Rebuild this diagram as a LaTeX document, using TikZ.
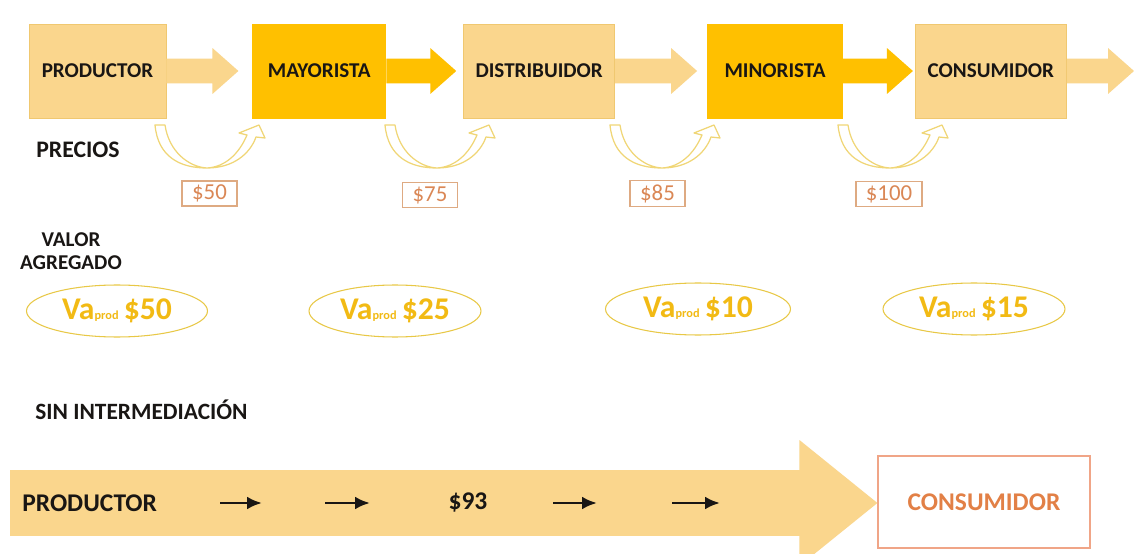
\documentclass[tikz,border=0pt]{standalone}
\usepackage{fontspec}
\setmainfont{Carlito}
\usetikzlibrary{arrows.meta,positioning,shapes.geometric,calc}
\definecolor{lightGold}{RGB}{250,214,141}
\definecolor{deepGold}{RGB}{255,192,0}
\definecolor{edgeGold}{RGB}{240,200,112}
\definecolor{curveGold}{RGB}{240,214,118}
\definecolor{priceLine}{RGB}{222,170,130}
\definecolor{priceInk}{RGB}{218,135,85}
\definecolor{vaLine}{RGB}{232,200,70}
\definecolor{vaInk}{RGB}{242,186,20}
\definecolor{endLine}{RGB}{240,165,135}
\definecolor{endInk}{RGB}{226,128,70}
\definecolor{ink}{RGB}{25,22,20}
\newcommand\vasub[1]{{\fontsize{7}{8}\selectfont #1}}
\tikzset{
  box/.style={draw=edgeGold, line width=0.5pt, fill=lightGold, minimum height=1.88cm, inner sep=0pt, text=ink, font=\bfseries\fontsize{12}{14}\selectfont},
  darkbox/.style={box, draw=deepGold, fill=deepGold},
  pricebox/.style={draw=priceLine, line width=0.6pt, text=priceInk, minimum width=1.1cm, minimum height=0.5cm, inner sep=2pt, font=\fontsize{13}{15}\selectfont},
  vabubble/.style={ellipse, draw=vaLine, line width=0.6pt, text=vaInk, minimum height=1.04cm, inner sep=0pt, font=\bfseries\fontsize{18}{22}\selectfont},
  heading/.style={text=ink, align=center, inner sep=0pt, font=\bfseries\fontsize{12}{13}\selectfont},
  bigtext/.style={text=ink, inner sep=0pt, font=\bfseries\fontsize{14.5}{16}\selectfont},
  endbox/.style={draw=endLine, line width=0.7pt, fill=white, text=endInk, inner sep=0pt, font=\bfseries\fontsize{14.5}{16}\selectfont},
  fat/.style n args={3}{to path={let \p1=(\tikztostart), \p2=(\tikztotarget) in
    (\x1,\y1+#1) -- (\x2-#3,\y1+#1) -- (\x2-#3,\y1+#2) -- (\x2,\y1)
    -- (\x2-#3,\y1-#2) -- (\x2-#3,\y1-#1) -- (\x1,\y1-#1) -- cycle}},
  chainarrow/.style={fat={0.25cm}{0.46cm}{0.52cm}},
  bigarrow/.style={fat={0.66cm}{1.26cm}{1.56cm}},
  tinyarrow/.style={-{Latex[length=3mm,width=2.6mm]}, line width=1.7pt, draw=ink},
  uturn/.pic={
    \draw[curveGold, line width=0.7pt, line join=round]
      (0,0) .. controls (3,32) and (25,43) .. (52,43)
      .. controls (78,43) and (95,29) .. (101,12) -- (110,13) -- (104,0) -- (84,8) -- (92,10)
      .. controls (84,29) and (70,42) .. (52,43)
      .. controls (34,42) and (14,27) .. (10,0) -- cycle;
  }
}
\begin{document}
\begin{tikzpicture}[x=0.02cm, y=-0.02cm]
  \clip (0,0) rectangle (1134,554);
  \fill[white] (0,0) rectangle (1134,554);
  % cadena con intermediarios
  \node[box, minimum width=2.74cm] (prod) at (97.5,71) {PRODUCTOR};
  \node[darkbox, minimum width=2.66cm, right=1.72cm of prod] (mayo) {MAYORISTA};
  \node[box, minimum width=3.02cm, right=1.54cm of mayo] (dist) {DISTRIBUIDOR};
  \node[darkbox, minimum width=2.70cm, right=1.84cm of dist] (mino) {MINORISTA};
  \node[box, minimum width=3.02cm, right=1.44cm of mino] (cons) {CONSUMIDOR};
  \coordinate (fin) at (1134,71);
  \fill[lightGold] (prod.east) to[chainarrow] ([xshift=-0.28cm]mayo.west);
  \fill[deepGold] (mayo.east) to[chainarrow] ([xshift=-0.14cm]dist.west);
  \fill[lightGold] (dist.east) to[chainarrow] ([xshift=-0.2cm]mino.west);
  \fill[deepGold] (mino.east) to[chainarrow] ([xshift=-0.04cm]cons.west);
  \fill[lightGold] (cons.east) to[chainarrow] (fin);
  % precios
  \node[heading, font=\bfseries\fontsize{13.5}{15}\selectfont] (precios) at (78,150) {PRECIOS};
  \foreach \x in {155,385,610,838}
    \pic at (\x,125) {uturn};
  \node[pricebox] (p50) at (209.5,193.5) {\$50};
  \node[pricebox] (p75) at (430,195) {\$75};
  \node[pricebox] (p85) at (657.5,193.5) {\$85};
  \node[pricebox, minimum width=1.32cm] (p100) at (889,194) {\$100};
  % valor agregado
  \node[heading] (valor) at (71,251) {VALOR\\AGREGADO};
  \node[vabubble, minimum width=3.62cm] (va1) at (117,311) {Va\vasub{prod}\,\$50};
  \node[vabubble, minimum width=3.44cm] (va2) at (395,311) {Va\vasub{prod}\,\$25};
  \node[vabubble, minimum width=3.70cm] (va3) at (698,309) {Va\vasub{prod}\,\$10};
  \node[vabubble, minimum width=3.64cm] (va4) at (974,309) {Va\vasub{prod}\,\$15};
  % sin intermediacion
  \node[heading, anchor=west, font=\bfseries\fontsize{13.3}{15}\selectfont] (sin) at (35,410) {SIN INTERMEDIACIÓN};
  \coordinate (ini) at (10,503);
  \node[endbox, minimum width=4.24cm, minimum height=1.84cm] (cons2) at (984,502) {CONSUMIDOR};
  \fill[lightGold] (ini) to[bigarrow] (cons2.west);
  \node[bigtext, anchor=west] (prod2) at (22,503) {PRODUCTOR};
  \node[bigtext] (precio) at (468,503) {\$93};
  \foreach \a/\b [count=\i] in {220/262, 325/370, 553/597, 672/720}
    \draw[tinyarrow] (\a,503) coordinate (s\i) -- (\b,503) coordinate (e\i);
\end{tikzpicture}
\end{document}
